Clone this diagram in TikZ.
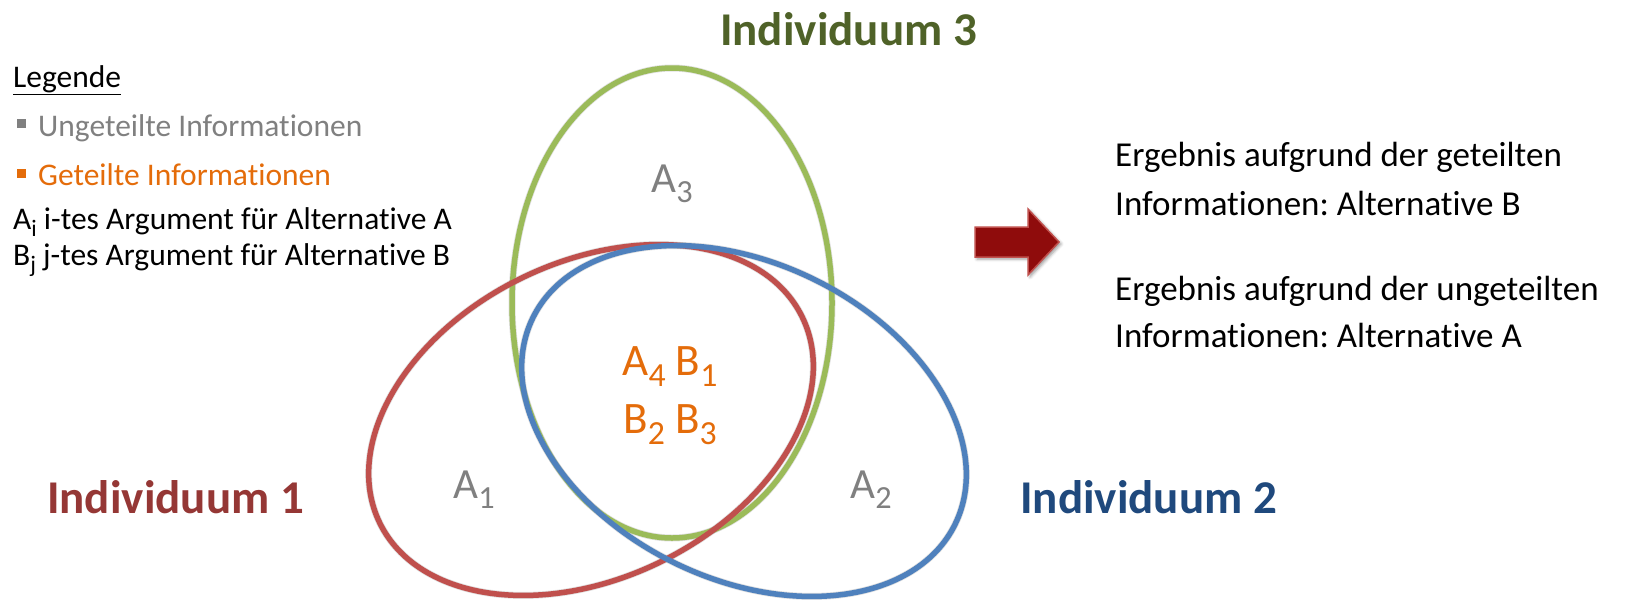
\documentclass[tikz,border=0pt]{standalone}
\usepackage{fontspec}
\setmainfont{Carlito}[Ligatures=NoCommon]
\usepackage{tikz}
\usetikzlibrary{positioning,shadows.blur}
\definecolor{ringred}{RGB}{192,80,77}
\definecolor{ringblue}{RGB}{79,129,189}
\definecolor{ringgreen}{RGB}{155,187,89}
\definecolor{indred}{RGB}{149,55,53}
\definecolor{indblue}{RGB}{31,73,125}
\definecolor{indgreen}{RGB}{79,98,40}
\definecolor{sharedorange}{RGB}{228,108,10}
\definecolor{unsharedgray}{RGB}{128,128,128}
\definecolor{arrowfill}{RGB}{143,12,12}
\newcommand{\subidx}[1]{\raisebox{-0.25em}{\scalebox{0.75}{#1}}}
\frenchspacing

\begin{document}
\begin{tikzpicture}[x=1pt, y=-1pt,
  ring/.style={draw=#1, line width=5.5pt},
  ringshade/.style={draw=black, opacity=0.12, line width=7pt, xshift=1.5pt, yshift=-2pt},
  indiv/.style={anchor=base west, inner sep=0pt, text=#1,
                font=\fontsize{47}{56}\selectfont\bfseries},
  legitem/.style={anchor=base west, inner sep=0pt, text=#1,
                  font=\fontsize{31.5}{38}\selectfont},
  bullet/.style={fill=#1, minimum size=9pt, inner sep=0pt},
  arg/.style={anchor=base, inner sep=0pt, text=unsharedgray,
              font=\fontsize{43}{52}\selectfont},
  shared/.style={anchor=base, inner sep=0pt, text=sharedorange,
                 font=\fontsize{45}{54}\selectfont},
  result/.style={anchor=base west, inner sep=0pt,
                 font=\fontsize{35}{42}\selectfont}
]
  \useasboundingbox (0,0) rectangle (1646,603);

  % legend
  \node[legitem=black] (leg) at (13,87) {\underline{Legende}};
  \node[bullet=unsharedgray] (bu) at (21.5,123) {};
  \node[legitem=unsharedgray] (unsh) at (38,136) {Ungeteilte Informationen};
  \node[bullet=sharedorange] (bs) at (21.5,173) {};
  \node[legitem=sharedorange] (sh) at (38,185) {Geteilte Informationen};
  \node[legitem=black] (defa) at (13,229) {A\subidx{i} i-tes Argument für Alternative A};
  \node[legitem=black] (defb) at (13,265) {B\subidx{j} j-tes Argument für Alternative B};

  % the three individuals
  \coordinate (c1) at (591,420);
  \coordinate (c2) at (744,421);
  \coordinate (c3) at (672,303);

  \draw[ringshade] (c3) ellipse [x radius=160, y radius=235];
  \draw[ringshade, rotate around={26:(c1)}] (c1) ellipse [x radius=235, y radius=158];
  \draw[ringshade, rotate around={-26:(c2)}] (c2) ellipse [x radius=235, y radius=158];

  \draw[ring=ringgreen] (c3) ellipse [x radius=160, y radius=235];
  \draw[ring=ringred, rotate around={26:(c1)}] (c1) ellipse [x radius=235, y radius=158];
  \draw[ring=ringblue, rotate around={-26:(c2)}] (c2) ellipse [x radius=235, y radius=158];

  \node[arg] (a3) at (672,192) {A\subidx{3}};
  \node[arg] (a1) at (474,498) {A\subidx{1}};
  \node[arg] (a2) at (871,498) {A\subidx{2}};
  \node[shared] (mid1) at (670,375) {A\subidx{4} B\subidx{1}};
  \node[shared] (mid2) at (670,433) {B\subidx{2} B\subidx{3}};

  \node[indiv=indgreen] (ind3) at (720,45) {Individuum 3};
  \node[indiv=indred] (ind1) at (47,513) {Individuum 1};
  \node[indiv=indblue] (ind2) at (1020,513) {Individuum 2};

  % result
  \path[draw=ringred, line width=1.5pt, fill=arrowfill,
        blur shadow={shadow xshift=2pt, shadow yshift=-2pt, shadow blur radius=3pt}]
    (975,227) -- (1028,227) -- (1028,209) -- (1059,242)
    -- (1028,275) -- (1028,257) -- (975,257) -- cycle;

  \node[result] (res1) at (1115,166) {Ergebnis aufgrund der geteilten};
  \node[result] (res2) at (1115,215) {Informationen: Alternative B};
  \node[result] (res3) at (1115,300) {Ergebnis aufgrund der ungeteilten};
  \node[result] (res4) at (1115,347) {Informationen: Alternative A};
\end{tikzpicture}
\end{document}
